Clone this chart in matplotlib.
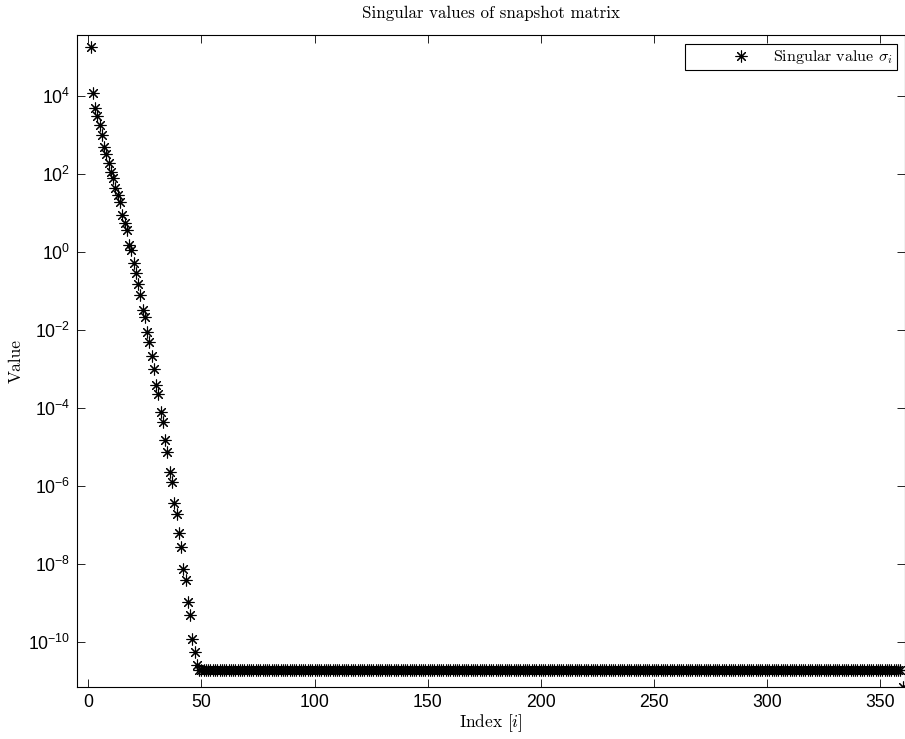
import numpy as np
import matplotlib
matplotlib.use("Agg")
import matplotlib.pyplot as plt

# Leading singular values (rapid decay), then the numerical noise floor
leading_values = [
    1.8e5, 1.2e4, 4.9e3, 3.1e3, 1.8e3, 1.0e3, 4.8e2, 3.3e2, 1.9e2, 1.1e2,
    7.8e1, 4.3e1, 2.9e1, 1.95e1, 8.9, 5.4, 3.7, 1.5, 1.09, 5.1e-1,
    2.8e-1, 1.5e-1, 7.9e-2, 3.3e-2, 2.2e-2, 9.0e-3, 5.0e-3, 2.1e-3, 9.7e-4, 3.9e-4,
    2.3e-4, 8.0e-5, 4.5e-5, 1.5e-5, 7.6e-6, 2.3e-6, 1.3e-6, 3.6e-7, 1.9e-7, 6.1e-8,
    2.8e-8, 7.3e-9, 3.9e-9, 1.08e-9, 4.9e-10, 1.24e-10, 5.6e-11, 2.6e-11,
]
noise_floor = 1.9e-11
n_floor = 311
last_value = 7.1e-12

sigma = np.array(leading_values + [noise_floor] * n_floor + [last_value])
index = np.arange(1, len(sigma) + 1)

xticks = [0, 50, 100, 150, 200, 250, 300, 350]
yticks = [1e-10, 1e-8, 1e-6, 1e-4, 1e-2, 1e0, 1e2, 1e4]

plt.rcParams["font.family"] = ["Liberation Sans", "DejaVu Sans"]
plt.rcParams["mathtext.fontset"] = "custom"
plt.rcParams["mathtext.rm"] = "Liberation Sans"
plt.rcParams["mathtext.it"] = "Liberation Sans:italic"
plt.rcParams["mathtext.bf"] = "Liberation Sans:bold"

fig = plt.figure(figsize=(9.05, 7.39), dpi=100)
ax = fig.add_axes([77 / 905, 52 / 739, 828 / 905, 652 / 739])

asterisk = (8, 2, 0)
ax.semilogy(index, sigma, linestyle="none", marker=asterisk, markersize=8.5,
            markeredgewidth=0.8, color="black", label=r"Singular value $\sigma_i$")

ax.set_xlim(-5, 361)
ax.set_ylim(7.1e-12, 3.6e5)
ax.set_xticks(xticks)
ax.set_yticks(yticks)
ax.yaxis.set_minor_locator(matplotlib.ticker.NullLocator())
ax.tick_params(which="both", direction="in", length=5.8, width=0.6,
               top=True, right=True, labelsize=12.7, pad=5)
for s in ax.spines.values():
    s.set_linewidth(0.8)

serif = "cmr10"
ax.set_title("Singular values of snapshot matrix", family=serif, fontsize=12.2, pad=12)
ax.set_xlabel(r"Index $[i]$", family=serif, fontsize=12.5, labelpad=1,
              math_fontfamily="cm")
ax.set_ylabel("Value", family=serif, fontsize=12.5, labelpad=3)

leg = ax.legend(loc="upper right", bbox_to_anchor=(0.9903, 0.986), borderaxespad=0,
                fancybox=False, framealpha=1, edgecolor="black", fontsize=11.5,
                handlelength=6.5, handletextpad=-1.2, borderpad=0.25)
leg.get_frame().set_linewidth(0.8)
for t in leg.get_texts():
    t.set_family(serif)
    t.set_math_fontfamily("cm")

fig.savefig("out.png", dpi=100)
